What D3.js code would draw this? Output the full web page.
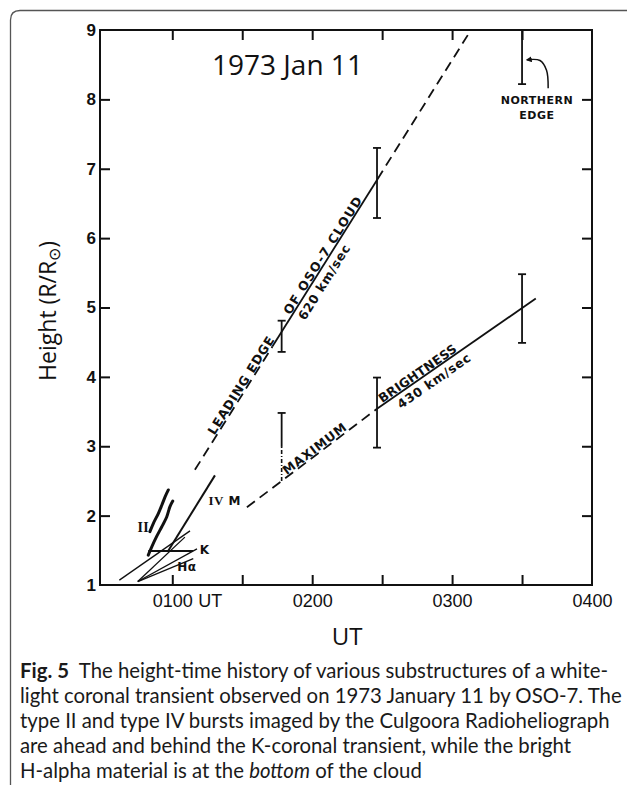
<!DOCTYPE html>
<html><head><meta charset="utf-8">
<script src="https://cdn.jsdelivr.net/npm/d3@7"></script>
<style>body{margin:0;background:#fff} svg{display:block}</style>
</head><body>
<svg id="c" width="627" height="785"></svg>
<script>
// ---------------- data (time in minutes after 0000 UT, height in R/Rsun) ----------------
const timeDomain = [29, 240];
const heightDomain = [1, 9];
const xTickMinutes = [60, 90, 120, 150, 180, 210];
const xLabelMinutes = [60, 120, 180, 240];
const xTickLabels = ["0100", "0200", "0300", "0400"];
const yTickValues = [1, 2, 3, 4, 5, 6, 7, 8, 9];
const yTickLabels = ["1", "2", "3", "4", "5", "6", "7", "8", "9"];

// leading edge of OSO-7 cloud (620 km/s)
const leadingEdgeTime = [69.7, 103, 148, 188.1];
const leadingEdgeHeight = [2.66, 4.44, 6.85, 9.0];
const leadingEdgeStyle = ["dash", "solid", "dash"];

// maximum brightness (430 km/s)
const brightnessTime = [92.0, 147.8, 215.9];
const brightnessHeight = [2.12, 3.54, 5.13];
const brightnessStyle = ["dash", "solid"];

// error bars
const errorBarTime = [106.9, 147.8, 147.8, 210, 210];
const errorBarLow = [4.36, 6.29, 2.98, 4.49, 8.22];
const errorBarHigh = [4.81, 7.30, 3.99, 5.48, 9.0];

// partly dashed error bar at the start of MAXIMUM
const dashBarTime = [106.9];
const dashBarHigh = [3.48];
const dashBarMid = [2.99];
const dashBarLow = [2.50];

// thin lines of the early phase (fan), K and H-alpha
const fanStartTime = [37.3, 45.2, 45.2, 45.2];
const fanStartHeight = [1.07, 1.05, 1.05, 1.05];
const fanEndTime = [67.6, 65.4, 70.6, 69.0];
const fanEndHeight = [1.78, 1.69, 1.52, 1.38];

const kBarTime = [49.7, 68.9];
const kBarHeight = [1.49, 1.49];

// type II burst tracks
const typeIIaTime = [50.4, 51.9, 54.0, 55.5, 56.9, 58.3];
const typeIIaHeight = [1.77, 1.89, 2.03, 2.15, 2.27, 2.37];
const typeIIbTime = [49.7, 51.2, 53.3, 55.5, 57.6, 59.0, 60.2];
const typeIIbHeight = [1.43, 1.55, 1.70, 1.84, 1.98, 2.13, 2.21];

// type IV M track
const typeIVTime = [58.2, 78.3];
const typeIVHeight = [1.49, 2.58];

// arrow to the northern edge bar
const arrowTime = [221.2, 220.5, 217.7, 212.1];
const arrowHeight = [8.16, 8.42, 8.56, 8.57];

// labels written along the lines: text, centre time
const leadingLabels = ["LEADING EDGE", "OF OSO-7 CLOUD", "620 km/sec"];
const leadingLabelTime = [91.6, 126.6, 121.6];
const brightLabels = ["MAXIMUM", "BRIGHTNESS", "430 km/sec"];
const brightLabelTime = [122.5, 166.6, 169.8];

// caption
const captionLines = [
  [["Fig. 5", "b"], ["  The height-time history of various substructures of a white-", ""]],
  [["light coronal transient observed on 1973 January 11 by OSO-7. The", ""]],
  [["type II and type IV bursts imaged by the Culgoora Radioheliograph", ""]],
  [["are ahead and behind the K-coronal transient, while the bright", ""]],
  [["H-alpha material is at the ", ""], ["bottom", "i"], [" of the cloud", ""]]
];

// ---------------- drawing ----------------
const svg = d3.select("#c");
const W = 627, H = 785;
const m = {left: 100, right: 35, top: 30, bottom: 200};
const x = d3.scaleLinear().domain(timeDomain).range([m.left, W - m.right]);
const y = d3.scaleLinear().domain(heightDomain).range([H - m.bottom, m.top]);

// outer rounded frame
svg.append("path")
  .attr("d", "M10.5," + H + " L10.5,20 Q10.5,10.5 20,10.5 L" + W + ",10.5")
  .attr("fill", "none").attr("stroke", "#555").attr("stroke-width", 1.3);

const ink = "#111";
const g = svg.append("g");

// axes with inward ticks
const tickFont = "'Liberation Sans', Arial, sans-serif";
function styleAxis(sel) {
  sel.select(".domain").remove();
  sel.selectAll(".tick line").attr("stroke", ink).attr("stroke-width", 2);
}
g.append("g").attr("transform", `translate(0,${y(1)})`)
  .call(d3.axisBottom(x).tickValues(xTickMinutes).tickSize(-10).tickFormat(""))
  .call(styleAxis);
g.append("g").attr("transform", `translate(0,${y(9)})`)
  .call(d3.axisTop(x).tickValues(xTickMinutes).tickSize(-10).tickFormat(""))
  .call(styleAxis);
g.append("g").attr("transform", `translate(${x(timeDomain[1])},0)`)
  .call(d3.axisRight(y).tickValues(yTickValues.slice(1, -1)).tickSize(-10).tickFormat(""))
  .call(styleAxis);
const yAx = g.append("g").attr("transform", `translate(${x(timeDomain[0])},0)`)
  .call(d3.axisLeft(y).tickValues(yTickValues).tickSize(-10).tickPadding(4)
    .tickFormat((d, i) => yTickLabels[i]))
  .call(styleAxis);
yAx.selectAll(".tick line").filter(d => d === 1 || d === 9).remove();
yAx.selectAll(".tick text").attr("font-family", tickFont).attr("font-weight", "bold")
  .attr("font-size", 17).attr("fill", ink);

const xLab = g.append("g").attr("transform", `translate(0,${y(1)})`)
  .call(d3.axisBottom(x).tickValues(xLabelMinutes).tickSize(0).tickPadding(9)
    .tickFormat((d, i) => xTickLabels[i]))
  .call(s => s.select(".domain").remove());
xLab.selectAll(".tick text").attr("font-family", tickFont).attr("font-size", 18).attr("fill", ink);
// " UT" after the first time label
const firstLab = xLab.select(".tick text").node();
const fw = firstLab.getComputedTextLength();
g.append("text").attr("x", x(xLabelMinutes[0]) + fw / 2 + 6).attr("y", y(1) + 9)
  .attr("dy", "0.71em").attr("font-family", tickFont).attr("font-size", 18).attr("fill", ink)
  .text("UT");

// plot frame
g.append("rect").attr("x", x(timeDomain[0])).attr("y", y(heightDomain[1]))
  .attr("width", x(timeDomain[1]) - x(timeDomain[0])).attr("height", y(heightDomain[0]) - y(heightDomain[1]))
  .attr("fill", "none").attr("stroke", ink).attr("stroke-width", 2);

// segmented straight lines
function segLine(times, heights, styles, width) {
  styles.forEach((s, i) => {
    g.append("line")
      .attr("x1", x(times[i])).attr("y1", y(heights[i]))
      .attr("x2", x(times[i + 1])).attr("y2", y(heights[i + 1]))
      .attr("stroke", ink).attr("stroke-width", width)
      .attr("stroke-dasharray", s === "dash" ? "10,6" : null);
  });
}
segLine(leadingEdgeTime, leadingEdgeHeight, leadingEdgeStyle, 1.8);
segLine(brightnessTime, brightnessHeight, brightnessStyle, 1.8);

// error bars
const cap = 4;
errorBarTime.forEach((t, i) => {
  const xx = x(t);
  g.append("line").attr("x1", xx).attr("x2", xx).attr("y1", y(errorBarLow[i])).attr("y2", y(errorBarHigh[i]))
    .attr("stroke", ink).attr("stroke-width", 1.8);
  [errorBarLow[i], errorBarHigh[i]].forEach(v => {
    g.append("line").attr("x1", xx - cap).attr("x2", xx + cap).attr("y1", y(v)).attr("y2", y(v))
      .attr("stroke", ink).attr("stroke-width", 1.8);
  });
});
dashBarTime.forEach((t, i) => {
  const xx = x(t);
  g.append("line").attr("x1", xx).attr("x2", xx).attr("y1", y(dashBarMid[i])).attr("y2", y(dashBarHigh[i]))
    .attr("stroke", ink).attr("stroke-width", 1.8);
  g.append("line").attr("x1", xx).attr("x2", xx).attr("y1", y(dashBarLow[i])).attr("y2", y(dashBarMid[i]))
    .attr("stroke", ink).attr("stroke-width", 1.6).attr("stroke-dasharray", "4,2,1,2");
  g.append("line").attr("x1", xx - cap).attr("x2", xx + cap).attr("y1", y(dashBarHigh[i])).attr("y2", y(dashBarHigh[i]))
    .attr("stroke", ink).attr("stroke-width", 1.8);
});

// early-phase thin lines
fanStartTime.forEach((t, i) => {
  g.append("line").attr("x1", x(t)).attr("y1", y(fanStartHeight[i]))
    .attr("x2", x(fanEndTime[i])).attr("y2", y(fanEndHeight[i]))
    .attr("stroke", ink).attr("stroke-width", 1.3);
});
g.append("line").attr("x1", x(kBarTime[0])).attr("y1", y(kBarHeight[0]))
  .attr("x2", x(kBarTime[1])).attr("y2", y(kBarHeight[1]))
  .attr("stroke", ink).attr("stroke-width", 2);

const curve = d3.line().x(d => x(d[0])).y(d => y(d[1])).curve(d3.curveCatmullRom);
g.append("path").attr("d", curve(d3.zip(typeIIaTime, typeIIaHeight)))
  .attr("fill", "none").attr("stroke", ink).attr("stroke-width", 3).attr("stroke-linecap", "round");
g.append("path").attr("d", curve(d3.zip(typeIIbTime, typeIIbHeight)))
  .attr("fill", "none").attr("stroke", ink).attr("stroke-width", 3).attr("stroke-linecap", "round");
g.append("line").attr("x1", x(typeIVTime[0])).attr("y1", y(typeIVHeight[0]))
  .attr("x2", x(typeIVTime[1])).attr("y2", y(typeIVHeight[1]))
  .attr("stroke", ink).attr("stroke-width", 2);

// arrow
svg.append("defs").append("marker").attr("id", "ah").attr("viewBox", "0 0 10 10")
  .attr("refX", 8).attr("refY", 5).attr("markerWidth", 6).attr("markerHeight", 6)
  .attr("orient", "auto").attr("markerUnits", "userSpaceOnUse")
  .append("path").attr("d", "M0,0 L10,5 L0,10 z").attr("fill", ink);
g.append("path").attr("d", curve(d3.zip(arrowTime, arrowHeight)))
  .attr("fill", "none").attr("stroke", ink).attr("stroke-width", 1.5).attr("marker-end", "url(#ah)");

// text along lines
const labFont = "'DejaVu Sans', sans-serif";
function alongLabel(times, heights, t, txt, above, gap, len) {
  const f = d3.scaleLinear().domain(times).range(heights);
  let k = d3.bisectRight(times, t) - 1;
  k = Math.max(0, Math.min(times.length - 2, k));
  const ang = Math.atan2(y(heights[k + 1]) - y(heights[k]), x(times[k + 1]) - x(times[k])) * 180 / Math.PI;
  g.append("text")
    .attr("transform", `translate(${x(t)},${y(f(t))}) rotate(${ang})`)
    .attr("text-anchor", "middle").attr("y", above ? -gap : gap + 9)
    .attr("font-family", labFont).attr("font-weight", "bold").attr("font-size", 12.5)
    .attr("textLength", len).attr("lengthAdjust", "spacing")
    .attr("fill", ink).text(txt);
}
const leadingLen = [113, 136, 86], brightLen = [76, 92, 86];
leadingLabels.forEach((s, i) => alongLabel(leadingEdgeTime, leadingEdgeHeight, leadingLabelTime[i], s, i < 2, i < 2 ? 1.5 : 5, leadingLen[i]));
brightLabels.forEach((s, i) => alongLabel(brightnessTime, brightnessHeight, brightLabelTime[i], s, i < 2, i < 2 ? 1.5 : 5, brightLen[i]));

// small labels
function lab(t, h, txt, opts) {
  const el = g.append("text").attr("x", x(t)).attr("y", y(h))
    .attr("font-family", opts.font || labFont).attr("font-weight", "bold")
    .attr("font-size", opts.size || 11).attr("text-anchor", opts.anchor || "middle")
    .attr("fill", ink).attr("letter-spacing", opts.ls || 0.5).text(txt);
  return el;
}
lab(216.4, 7.94, "NORTHERN", {});
lab(216.4, 7.71, "EDGE", {});
lab(47.6, 1.76, "II", {font: "'Liberation Serif', serif", size: 14, ls: 0});
const ivm = lab(75.5, 2.16, "", {anchor: "start", size: 12});
ivm.append("tspan").attr("font-family", "'Liberation Serif', serif").attr("font-size", 13).text("IV");
ivm.append("tspan").text(" M");
lab(71.8, 1.44, "K", {anchor: "start", size: 12});
lab(66.3, 1.20, "Hα", {size: 12});

// titles
svg.append("text").attr("x", x(109.4)).attr("y", 75).attr("text-anchor", "middle")
  .attr("font-family", "'Open Sans', sans-serif").attr("font-size", 28).attr("fill", ink)
  .text("1973 Jan 11");

const yl = svg.append("text").attr("transform", `translate(56,${y(4.95)}) rotate(-90)`)
  .attr("text-anchor", "middle").attr("font-family", "'Open Sans', sans-serif")
  .attr("font-size", 23).attr("fill", ink);
yl.append("tspan").text("Height (R/R");
yl.append("tspan").attr("font-size", 16).attr("dy", 4).text("⊙");
yl.append("tspan").attr("dy", -4).text(")");

svg.append("text").attr("x", x(135)).attr("y", 645).attr("text-anchor", "middle")
  .attr("font-family", "'Open Sans', sans-serif").attr("font-size", 24).attr("fill", ink).text("UT");

// caption, fitted to the figure width
const capFont = "Lato, 'Open Sans', sans-serif";
const capG = svg.append("g");
function drawCaption(size) {
  capG.selectAll("*").remove();
  captionLines.forEach((parts, i) => {
    const t = capG.append("text").attr("x", 20).attr("y", 678 + i * 25)
      .attr("font-family", capFont).attr("font-size", size).attr("fill", "#1a1a1a")
      .attr("xml:space", "preserve").style("white-space", "pre");
    parts.forEach(p => {
      const s = t.append("tspan").text(p[0]);
      if (p[1] === "b") s.attr("font-weight", "bold");
      if (p[1] === "i") s.attr("font-style", "italic");
    });
  });
}
drawCaption(18);
const ref = capG.selectAll("text").nodes()[2].getComputedTextLength();
drawCaption(18 * 590 / ref);
</script>
</body></html>
